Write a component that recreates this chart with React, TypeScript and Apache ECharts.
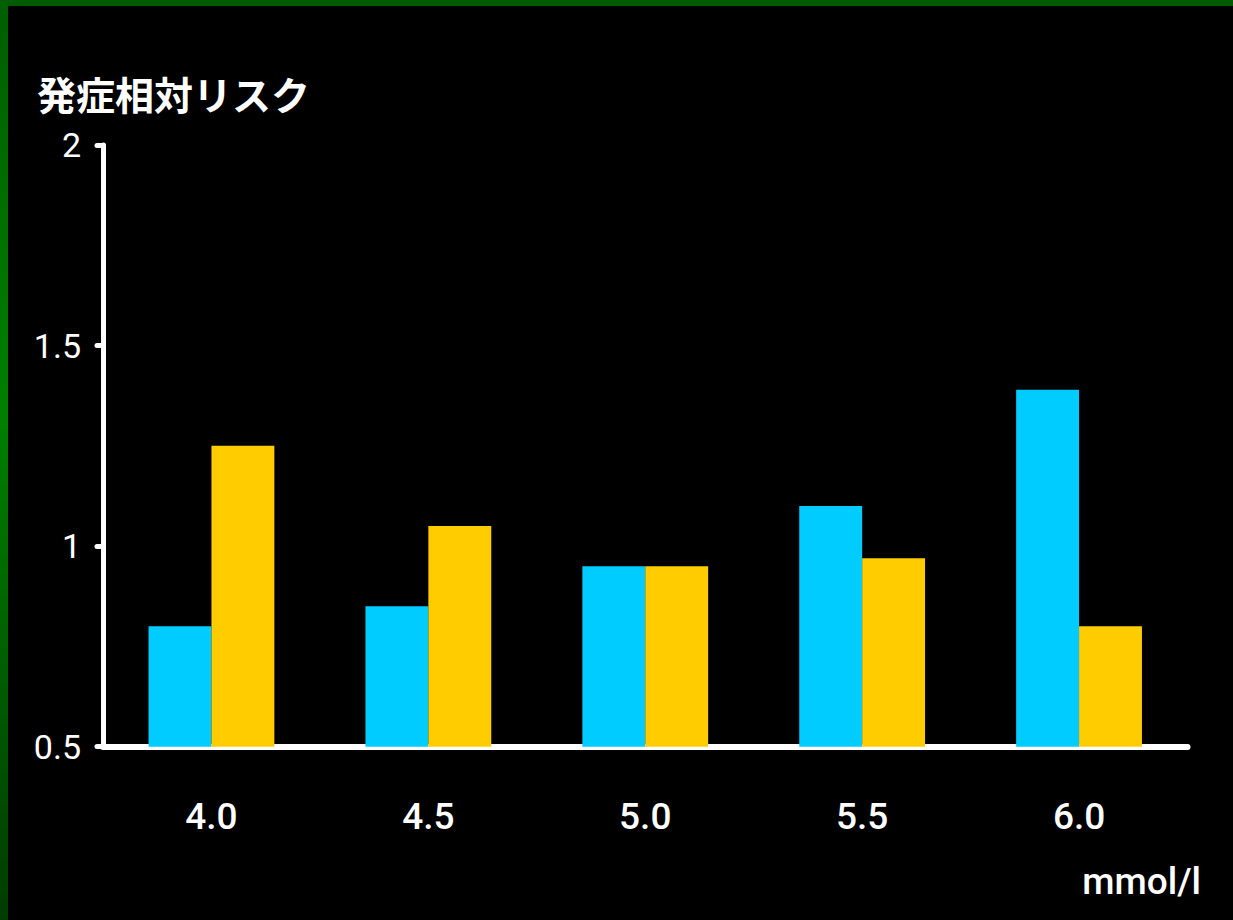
import React, { useEffect, useRef } from "react";
import * as echarts from "echarts";

const categories = ["4.0", "4.5", "5.0", "5.5", "6.0"];
const seriesBlue = [0.8, 0.85, 0.95, 1.1, 1.39];
const seriesYellow = [1.25, 1.05, 0.95, 0.97, 0.8];
const yTicks = [0.5, 1, 1.5, 2];
const yTitle = "発症相対リスク";
const xUnit = "mmol/l";

export default function App() {
  const ref = useRef<HTMLDivElement>(null);
  useEffect(() => {
    if (!ref.current) return;
    const chart = echarts.init(ref.current, null, { renderer: "svg" });
    chart.setOption({
      animation: false,
      backgroundColor: "#000000",
      grid: { left: 103, right: 1233 - 1187.5, top: 145, bottom: 920 - 746.7, containLabel: false },
      xAxis: {
        type: "category",
        data: categories,
        axisLine: { show: true, lineStyle: { color: "#ffffff", width: 6, cap: "round" } },
        axisTick: { show: false },
        axisLabel: {
          color: "#ffffff",
          fontSize: 37,
          fontWeight: 500,
          fontFamily: "Roboto, 'Noto Sans', sans-serif",
          margin: 51,
        },
        splitLine: { show: false },
      },
      yAxis: {
        type: "value",
        min: yTicks[0],
        max: yTicks[yTicks.length - 1],
        interval: 0.5,
        axisLine: { show: true, lineStyle: { color: "#ffffff", width: 5, cap: "round" } },
        axisTick: { show: true, length: 6, lineStyle: { color: "#ffffff", width: 5, cap: "round" } },
        axisLabel: {
          color: "#ffffff",
          fontSize: 34,
          fontFamily: "Roboto, sans-serif",
          margin: 22,
          padding: [6, 0, 0, 0],
          formatter: (v: number) => String(v),
        },
        splitLine: { show: false },
      },
      series: [
        {
          type: "bar",
          data: seriesBlue,
          itemStyle: { color: "#00ccff" },
          barGap: "0%",
          barCategoryGap: "42%",
        },
        {
          type: "bar",
          data: seriesYellow,
          itemStyle: { color: "#ffcc00" },
          barGap: "0%",
          barCategoryGap: "42%",
        },
      ],
      graphic: [
        {
          type: "rect",
          left: 0,
          top: 0,
          shape: { width: 1233, height: 6 },
          style: { fill: "#005c00" },
          silent: true,
        },
        {
          type: "rect",
          left: 0,
          top: 0,
          shape: { width: 8, height: 920 },
          style: {
            fill: new echarts.graphic.LinearGradient(0, 0, 0, 1, [
              { offset: 0, color: "#005e00" },
              { offset: 0.45, color: "#008000" },
              { offset: 1, color: "#003c00" },
            ]),
          },
          silent: true,
        },
        {
          type: "text",
          left: 37,
          top: 73,
          style: {
            text: yTitle,
            fill: "#ffffff",
            fontSize: 39,
            fontFamily: "'Noto Sans CJK JP', sans-serif",
            fontWeight: "bold",
          },
        },
        {
          type: "text",
          right: 32,
          top: 863,
          style: {
            text: xUnit,
            fill: "#ffffff",
            fontSize: 37,
            fontWeight: 500,
            fontFamily: "Roboto, 'Noto Sans', sans-serif",
          },
        },
      ],
    });
    return () => chart.dispose();
  }, []);
  return (
    <div
      ref={ref}
      style={{ position: "absolute", left: 0, top: 0, width: 1233, height: 920 }}
    />
  );
}
